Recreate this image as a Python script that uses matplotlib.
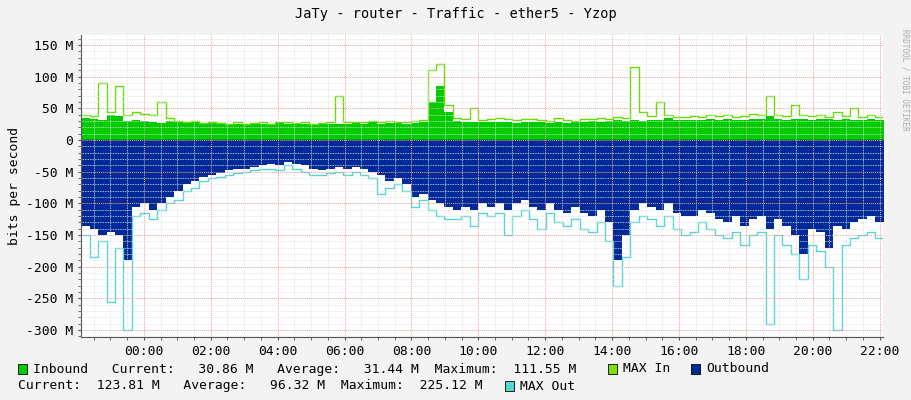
import numpy as np
import matplotlib.pyplot as plt
from matplotlib.patches import Rectangle

# 15-minute samples, hours relative to midnight
t = np.linspace(-1.875, 22.125, 96)

inbound = [35, 33, 32, 40, 38, 30, 32, 30, 28, 27, 30, 28, 27, 28, 26, 27,
           26, 25, 26, 25, 25, 26, 25, 27, 26, 25, 26, 25, 25, 26, 25, 26,
           27, 26, 28, 26, 27, 28, 26, 27, 28, 60, 85, 45, 30, 28, 29, 28,
           28, 29, 28, 27, 28, 29, 28, 27, 28, 27, 29, 28, 30, 29, 30, 31,
           30, 31, 30, 32, 31, 35, 32, 31, 32, 31, 33, 32, 33, 31, 32, 33,
           34, 38, 33, 32, 33, 34, 32, 33, 34, 32, 33, 31, 32, 33, 31, 31]
max_in = [40, 38, 90, 45, 85, 40, 45, 42, 40, 60, 35, 30, 28, 30, 27, 28,
          27, 26, 28, 26, 27, 28, 26, 29, 28, 27, 28, 26, 27, 28, 70, 28,
          29, 28, 30, 28, 30, 29, 28, 30, 32, 110, 120, 55, 35, 33, 50, 32,
          33, 35, 33, 32, 34, 33, 32, 30, 35, 32, 30, 34, 33, 35, 34, 36,
          35, 115, 45, 38, 60, 40, 37, 36, 38, 37, 40, 38, 40, 36, 38, 42,
          40, 70, 40, 38, 55, 40, 38, 40, 36, 45, 38, 50, 36, 40, 37, 35]
outbound = [-135, -140, -150, -145, -150, -190, -105, -100, -110, -100, -90, -80,
            -70, -65, -58, -55, -52, -48, -45, -45, -42, -40, -38, -40,
            -35, -38, -40, -45, -48, -45, -42, -45, -42, -45, -50, -55,
            -65, -60, -70, -90, -85, -95, -100, -105, -110, -105, -110, -100,
            -105, -100, -110, -100, -95, -105, -110, -100, -110, -115, -105, -115,
            -120, -110, -130, -190, -150, -110, -100, -105, -110, -100, -115, -120,
            -120, -110, -115, -125, -130, -120, -135, -125, -120, -140, -125, -135,
            -150, -180, -140, -145, -170, -135, -140, -130, -125, -120, -130, -125]
max_out = [-150, -185, -160, -255, -170, -300, -120, -115, -125, -110, -100, -95,
           -80, -75, -65, -60, -58, -55, -52, -50, -48, -45, -45, -48,
           -40, -45, -50, -55, -55, -52, -50, -55, -50, -55, -60, -85,
           -75, -70, -80, -105, -95, -110, -120, -125, -125, -120, -135, -115,
           -120, -115, -150, -120, -110, -125, -140, -115, -130, -135, -125, -140,
           -145, -130, -160, -230, -185, -130, -120, -125, -135, -120, -140, -150,
           -145, -130, -140, -150, -155, -145, -165, -150, -145, -290, -150, -165,
           -180, -220, -165, -175, -200, -300, -165, -155, -150, -145, -155, -150]

bg = '#f3f3f3'
mono = 'DejaVu Sans Mono'
fig = plt.figure(figsize=(9.11, 4.0), dpi=100, facecolor=bg)
ax = fig.add_axes([81 / 911, 63 / 400, 802 / 911, 302 / 400])
ax.set_facecolor('white')

ax.fill_between(t, inbound, 0, step='post', color='#00cc00', lw=0)
ax.step(t, max_in, where='post', color='#66dd00', lw=1)
ax.step(t, max_out, where='post', color='#55d6d3', lw=1)
ax.fill_between(t, outbound, 0, step='post', color='#002a97', lw=0)

ax.set_xlim(-1.88, 22.1)
ax.set_ylim(-311, 166)
ax.set_xticks(np.arange(0, 23, 2))
ax.set_xticklabels(['%02d:00' % h for h in range(0, 23, 2)])
ax.set_xticks(np.arange(-1.5, 22.1, 0.5), minor=True)
ax.set_yticks(np.arange(-300, 151, 50))
ax.set_yticklabels(['%d M' % v if v else '0' for v in range(-300, 151, 50)])
ax.set_yticks(np.arange(-310, 166, 10), minor=True)
ax.grid(which='minor', color='#e2e2e2', ls=(0, (1, 1)), lw=0.6)
ax.grid(which='major', color='#f2a0a0', ls=(0, (1, 1)), lw=0.7)
ax.set_axisbelow(False)
for s in ['top', 'right']:
    ax.spines[s].set_visible(False)
for s in ['left', 'bottom']:
    ax.spines[s].set_color('#555555')
ax.tick_params(which='both', length=2, labelsize=9.4, colors='#555555', labelcolor='black')
for lab in ax.get_xticklabels() + ax.get_yticklabels():
    lab.set_family(mono)
ax.set_ylabel('bits per second', family=mono, fontsize=9.4)
ax.axhline(0, color='black', lw=0.3)

fig.text(0.5, 0.965, 'JaTy - router - Traffic - ether5 - Yzop', ha='center', va='center',
         family=mono, fontsize=9.8)
fig.text(0.993, 0.8, 'RRDTOOL / TOBI OETIKER', rotation=270, ha='center', va='center',
         family=mono, fontsize=5.5, color='#aaaaaa')

def box(x, y, c):
    fig.patches.append(Rectangle((x / 911, 1 - (y + 5) / 400), 9 / 911, 10 / 400,
                                 transform=fig.transFigure, fc=c, ec='black', lw=0.6))

def txt(x, y, s):
    fig.text(x / 911, 1 - y / 400, s, family=mono, fontsize=9.4, va='center')

box(18, 369, '#00cc00')
txt(33, 369, 'Inbound   Current:   30.86 M   Average:   31.44 M  Maximum:  111.55 M')
box(608, 369, '#7fe000')
txt(623, 369, 'MAX In')
box(691, 369, '#002a97')
txt(706, 369, 'Outbound')
txt(18, 386, 'Current:  123.81 M   Average:   96.32 M  Maximum:  225.12 M')
box(505, 386, '#55d6d3')
txt(520, 386, 'MAX Out')

fig.savefig('out.png', dpi=100, facecolor=bg)
